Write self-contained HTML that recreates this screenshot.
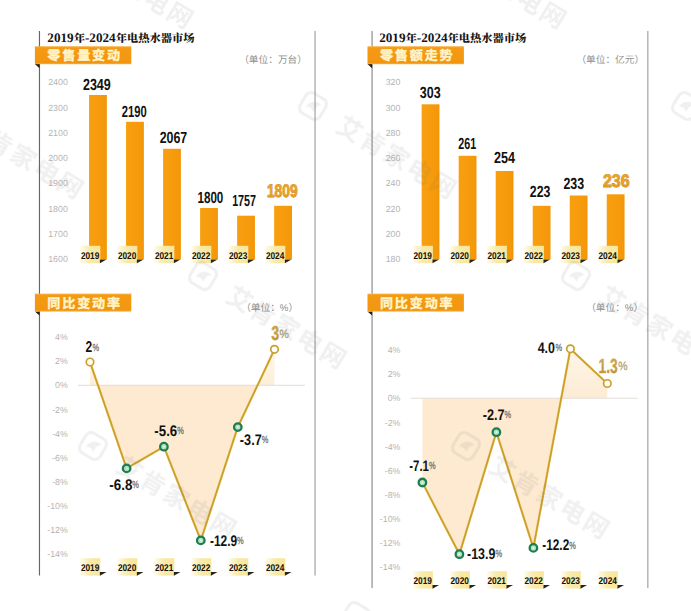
<!DOCTYPE html>
<html lang="zh-CN"><head><meta charset="utf-8"><title>2019年-2024年电热水器市场</title>
<style>html,body{margin:0;padding:0;background:#fff}svg{display:block}text{font-family:"Liberation Sans", "Noto Sans CJK SC", sans-serif;text-rendering:geometricPrecision}text.serif{font-family:"Liberation Serif", "Noto Serif CJK SC", serif}</style></head><body>
<svg width="691" height="611" viewBox="0 0 691 611">
<defs><linearGradient id="bar" x1="0" x2="1" y1="0" y2="0"><stop offset="0" stop-color="#f89f10"/><stop offset="0.85" stop-color="#f5990b"/><stop offset="1" stop-color="#f19509"/></linearGradient><linearGradient id="ban" x1="0" x2="0" y1="0" y2="1"><stop offset="0" stop-color="#f8b850"/><stop offset="0.09" stop-color="#f59a14"/><stop offset="0.91" stop-color="#f3960f"/><stop offset="1" stop-color="#f6b045"/></linearGradient><linearGradient id="tab" x1="0" x2="1" y1="0" y2="0"><stop offset="0" stop-color="#fdf3cd" stop-opacity="0.25"/><stop offset="0.28" stop-color="#fbf1c4"/><stop offset="0.5" stop-color="#f9eaa8"/><stop offset="1" stop-color="#f8e69c"/></linearGradient><linearGradient id="gold" x1="0" x2="0" y1="0" y2="1"><stop offset="0" stop-color="#efa628"/><stop offset="1" stop-color="#e2981d"/></linearGradient><linearGradient id="gold2" x1="0" x2="0" y1="0" y2="1"><stop offset="0" stop-color="#cfae52"/><stop offset="1" stop-color="#b58f34"/></linearGradient><linearGradient id="pos" gradientUnits="userSpaceOnUse" x1="0" x2="0" y1="345" y2="400"><stop offset="0" stop-color="#fef6ea"/><stop offset="1" stop-color="#fdebd3"/></linearGradient></defs>
<rect width="691" height="611" fill="#ffffff"/>
<rect x="38.9" y="31" width="1.15" height="544.5" fill="#666666"/>
<rect x="314.5" y="31" width="1.1" height="544.5" fill="#9a9a9a"/>
<text x="47.3" y="41.8" class="serif" font-size="11.1" font-weight="900" fill="#161616" textLength="147.2" lengthAdjust="spacingAndGlyphs"><tspan font-size="13" font-weight="bold">2019</tspan>年<tspan font-size="13" font-weight="bold">-2024</tspan>年电热水器市场</text>
<path d="M34.9 64 L39.5 64 L39.5 68.2 Z" fill="#231a10"/>
<rect x="34.9" y="46.2" width="96.4" height="18" fill="url(#ban)"/>
<text x="47.3" y="60.4" font-size="13.1" font-weight="bold" fill="#fff5cc" stroke="#fff5cc" stroke-width="0.35" textLength="72.8" lengthAdjust="spacing">零售量变动</text>
<path d="M34.9 311.4 L39.5 311.4 L39.5 315.6 Z" fill="#231a10"/>
<rect x="34.9" y="293.6" width="96.4" height="18" fill="url(#ban)"/>
<text x="47.3" y="307.8" font-size="13.1" font-weight="bold" fill="#fff5cc" stroke="#fff5cc" stroke-width="0.35" textLength="72.8" lengthAdjust="spacing">同比变动率</text>
<text x="307" y="62.9" font-size="9.7" fill="#8f8f8f" text-anchor="end">（单位：万台）</text>
<text x="298.2" y="310.5" font-size="9.7" fill="#8f8f8f" text-anchor="end">（单位：%）</text>
<text x="67.8" y="85.2" font-size="8.8" fill="#b4b4b4" text-anchor="end">2400</text>
<text x="67.8" y="110.5" font-size="8.8" fill="#b4b4b4" text-anchor="end">2300</text>
<text x="67.8" y="135.8" font-size="8.8" fill="#b4b4b4" text-anchor="end">2100</text>
<text x="67.8" y="161.1" font-size="8.8" fill="#b4b4b4" text-anchor="end">2000</text>
<text x="67.8" y="186.4" font-size="8.8" fill="#b4b4b4" text-anchor="end">1900</text>
<text x="67.8" y="211.7" font-size="8.8" fill="#b4b4b4" text-anchor="end">1800</text>
<text x="67.8" y="237" font-size="8.8" fill="#b4b4b4" text-anchor="end">1700</text>
<text x="67.8" y="262.3" font-size="8.8" fill="#b4b4b4" text-anchor="end">1600</text>
<rect x="89.05" y="95" width="17.8" height="164.4" fill="url(#bar)"/>
<rect x="126.07" y="121.8" width="17.8" height="137.6" fill="url(#bar)"/>
<rect x="163.09" y="148.8" width="17.8" height="110.6" fill="url(#bar)"/>
<rect x="200.11" y="208" width="17.8" height="51.4" fill="url(#bar)"/>
<rect x="237.13" y="215.7" width="17.8" height="43.7" fill="url(#bar)"/>
<rect x="274.15" y="205.8" width="17.8" height="53.6" fill="url(#bar)"/>
<rect x="80" y="245.8" width="20.3" height="17.4" fill="url(#tab)"/>
<path d="M99.9 259.5 L106.5 259.5 L99.9 263.3 Z" fill="#2a2418"/>
<text x="80.88" y="258.8" font-size="9.8" font-weight="bold" fill="#111" textLength="18.43" lengthAdjust="spacingAndGlyphs" >2019</text>
<rect x="117" y="245.8" width="20.3" height="17.4" fill="url(#tab)"/>
<path d="M136.9 259.5 L143.5 259.5 L136.9 263.3 Z" fill="#2a2418"/>
<text x="117.88" y="258.8" font-size="9.8" font-weight="bold" fill="#111" textLength="18.43" lengthAdjust="spacingAndGlyphs" >2020</text>
<rect x="154" y="245.8" width="20.3" height="17.4" fill="url(#tab)"/>
<path d="M173.9 259.5 L180.5 259.5 L173.9 263.3 Z" fill="#2a2418"/>
<text x="154.88" y="258.8" font-size="9.8" font-weight="bold" fill="#111" textLength="18.43" lengthAdjust="spacingAndGlyphs" >2021</text>
<rect x="191" y="245.8" width="20.3" height="17.4" fill="url(#tab)"/>
<path d="M210.9 259.5 L217.5 259.5 L210.9 263.3 Z" fill="#2a2418"/>
<text x="191.88" y="258.8" font-size="9.8" font-weight="bold" fill="#111" textLength="18.43" lengthAdjust="spacingAndGlyphs" >2022</text>
<rect x="228" y="245.8" width="20.3" height="17.4" fill="url(#tab)"/>
<path d="M247.9 259.5 L254.5 259.5 L247.9 263.3 Z" fill="#2a2418"/>
<text x="228.88" y="258.8" font-size="9.8" font-weight="bold" fill="#111" textLength="18.43" lengthAdjust="spacingAndGlyphs" >2023</text>
<rect x="265" y="245.8" width="20.3" height="17.4" fill="url(#tab)"/>
<path d="M284.9 259.5 L291.5 259.5 L284.9 263.3 Z" fill="#2a2418"/>
<text x="265.88" y="258.8" font-size="9.8" font-weight="bold" fill="#111" textLength="18.43" lengthAdjust="spacingAndGlyphs" >2024</text>
<text x="82.95" y="89.5" font-size="16.1" font-weight="bold" fill="#111" textLength="27.81" lengthAdjust="spacingAndGlyphs" >2349</text>
<text x="121.75" y="116.6" font-size="16.1" font-weight="bold" fill="#111" textLength="24.91" lengthAdjust="spacingAndGlyphs" >2190</text>
<text x="159.65" y="142.9" font-size="16.1" font-weight="bold" fill="#111" textLength="27.61" lengthAdjust="spacingAndGlyphs" >2067</text>
<text x="197.45" y="202.6" font-size="16.1" font-weight="bold" fill="#111" textLength="25.91" lengthAdjust="spacingAndGlyphs" >1800</text>
<text x="232.15" y="206.3" font-size="16.1" font-weight="bold" fill="#111" textLength="23.91" lengthAdjust="spacingAndGlyphs" >1757</text>
<text x="266.9" y="197.3" font-size="18.2" font-weight="bold" fill="url(#gold)" textLength="30.8" lengthAdjust="spacingAndGlyphs" stroke="#c98a28" stroke-width="0.8" paint-order="stroke">1809</text>
<text x="67.8" y="340.2" font-size="8.8" fill="#b4b4b4" text-anchor="end">4%</text>
<text x="67.8" y="364.32" font-size="8.8" fill="#b4b4b4" text-anchor="end">2%</text>
<text x="67.8" y="388.44" font-size="8.8" fill="#b4b4b4" text-anchor="end">0%</text>
<text x="67.8" y="412.56" font-size="8.8" fill="#b4b4b4" text-anchor="end">-2%</text>
<text x="67.8" y="436.68" font-size="8.8" fill="#b4b4b4" text-anchor="end">-4%</text>
<text x="67.8" y="460.8" font-size="8.8" fill="#b4b4b4" text-anchor="end">-6%</text>
<text x="67.8" y="484.92" font-size="8.8" fill="#b4b4b4" text-anchor="end">-8%</text>
<text x="67.8" y="509.04" font-size="8.8" fill="#b4b4b4" text-anchor="end">-10%</text>
<text x="67.8" y="533.16" font-size="8.8" fill="#b4b4b4" text-anchor="end">-12%</text>
<text x="67.8" y="557.28" font-size="8.8" fill="#b4b4b4" text-anchor="end">-14%</text>
<clipPath id="c0n"><rect x="0" y="385.3" width="691" height="300"/></clipPath><clipPath id="c0p"><rect x="0" y="0" width="691" height="385.3"/></clipPath>
<path d="M90 385.3 L90 362 L126.6 468.4 L163.9 446.7 L200.8 540.4 L237.8 427.1 L274.5 349.3 L274.5 385.3 Z" fill="#fdead1" clip-path="url(#c0n)"/>
<path d="M90 385.3 L90 362 L126.6 468.4 L163.9 446.7 L200.8 540.4 L237.8 427.1 L274.5 349.3 L274.5 385.3 Z" fill="url(#pos)" clip-path="url(#c0p)"/>
<rect x="78" y="384.8" width="227" height="1" fill="#e3ddd6"/>
<path d="M90 362 L126.6 468.4 L163.9 446.7 L200.8 540.4 L237.8 427.1 L274.5 349.3" fill="none" stroke="#eaae3c" stroke-width="2.4" stroke-linejoin="round" opacity="0.6"/>
<path d="M90 362 L126.6 468.4 L163.9 446.7 L200.8 540.4 L237.8 427.1 L274.5 349.3" fill="none" stroke="#c9a024" stroke-width="1.6" stroke-linejoin="round"/>
<circle cx="90" cy="362" r="3.75" fill="#fffdf7" stroke="#c9a030" stroke-width="1.7"/>
<circle cx="126.6" cy="468.4" r="3.75" fill="#b5e3c3" stroke="#1d7d50" stroke-width="2.3"/>
<circle cx="126.6" cy="468.4" r="0.9" fill="#e9f7ed"/>
<circle cx="163.9" cy="446.7" r="3.75" fill="#b5e3c3" stroke="#1d7d50" stroke-width="2.3"/>
<circle cx="163.9" cy="446.7" r="0.9" fill="#e9f7ed"/>
<circle cx="200.8" cy="540.4" r="3.75" fill="#b5e3c3" stroke="#1d7d50" stroke-width="2.3"/>
<circle cx="200.8" cy="540.4" r="0.9" fill="#e9f7ed"/>
<circle cx="237.8" cy="427.1" r="3.75" fill="#b5e3c3" stroke="#1d7d50" stroke-width="2.3"/>
<circle cx="237.8" cy="427.1" r="0.9" fill="#e9f7ed"/>
<circle cx="274.5" cy="349.3" r="3.75" fill="#fffdf7" stroke="#c9a030" stroke-width="1.7"/>
<text x="85.46" y="352.4" font-size="15.6" font-weight="bold" fill="#111" textLength="6.69" lengthAdjust="spacingAndGlyphs" >2</text>
<text x="92.59" y="350.7" font-size="10.4" fill="#6b6b6b" stroke="#6b6b6b" stroke-width="0.25" textLength="6.62" lengthAdjust="spacingAndGlyphs">%</text>
<text x="109.26" y="489.9" font-size="15.4" font-weight="bold" fill="#111" textLength="23.08" lengthAdjust="spacingAndGlyphs" >-6.8</text>
<text x="132.29" y="488.2" font-size="10.4" fill="#6b6b6b" stroke="#6b6b6b" stroke-width="0.25" textLength="6.62" lengthAdjust="spacingAndGlyphs">%</text>
<text x="154.36" y="436" font-size="15.4" font-weight="bold" fill="#111" textLength="22.88" lengthAdjust="spacingAndGlyphs" >-5.6</text>
<text x="177.19" y="434.3" font-size="10.4" fill="#6b6b6b" stroke="#6b6b6b" stroke-width="0.25" textLength="6.62" lengthAdjust="spacingAndGlyphs">%</text>
<text x="209.96" y="545.5" font-size="15.4" font-weight="bold" fill="#111" textLength="27.18" lengthAdjust="spacingAndGlyphs" >-12.9</text>
<text x="237.09" y="543.8" font-size="10.4" fill="#6b6b6b" stroke="#6b6b6b" stroke-width="0.25" textLength="6.62" lengthAdjust="spacingAndGlyphs">%</text>
<text x="239.86" y="444.7" font-size="15.4" font-weight="bold" fill="#111" textLength="21.88" lengthAdjust="spacingAndGlyphs" >-3.7</text>
<text x="261.69" y="443" font-size="10.4" fill="#6b6b6b" stroke="#6b6b6b" stroke-width="0.25" textLength="6.62" lengthAdjust="spacingAndGlyphs">%</text>
<text x="271.16" y="340.2" font-size="20" font-weight="bold" fill="url(#gold2)" textLength="7.88" lengthAdjust="spacingAndGlyphs" stroke="#d3a548" stroke-width="0.35">3</text>
<text x="279.53" y="337.5" font-size="12.2" fill="#a9a272" stroke="#a9a272" stroke-width="0.25" textLength="9.33" lengthAdjust="spacingAndGlyphs">%</text>
<rect x="80" y="558.2" width="20.3" height="17.4" fill="url(#tab)"/>
<path d="M99.9 571.9 L106.5 571.9 L99.9 575.7 Z" fill="#2a2418"/>
<text x="80.88" y="571.2" font-size="9.8" font-weight="bold" fill="#111" textLength="18.43" lengthAdjust="spacingAndGlyphs" >2019</text>
<rect x="117" y="558.2" width="20.3" height="17.4" fill="url(#tab)"/>
<path d="M136.9 571.9 L143.5 571.9 L136.9 575.7 Z" fill="#2a2418"/>
<text x="117.88" y="571.2" font-size="9.8" font-weight="bold" fill="#111" textLength="18.43" lengthAdjust="spacingAndGlyphs" >2020</text>
<rect x="154" y="558.2" width="20.3" height="17.4" fill="url(#tab)"/>
<path d="M173.9 571.9 L180.5 571.9 L173.9 575.7 Z" fill="#2a2418"/>
<text x="154.88" y="571.2" font-size="9.8" font-weight="bold" fill="#111" textLength="18.43" lengthAdjust="spacingAndGlyphs" >2021</text>
<rect x="191" y="558.2" width="20.3" height="17.4" fill="url(#tab)"/>
<path d="M210.9 571.9 L217.5 571.9 L210.9 575.7 Z" fill="#2a2418"/>
<text x="191.88" y="571.2" font-size="9.8" font-weight="bold" fill="#111" textLength="18.43" lengthAdjust="spacingAndGlyphs" >2022</text>
<rect x="228" y="558.2" width="20.3" height="17.4" fill="url(#tab)"/>
<path d="M247.9 571.9 L254.5 571.9 L247.9 575.7 Z" fill="#2a2418"/>
<text x="228.88" y="571.2" font-size="9.8" font-weight="bold" fill="#111" textLength="18.43" lengthAdjust="spacingAndGlyphs" >2023</text>
<rect x="265" y="558.2" width="20.3" height="17.4" fill="url(#tab)"/>
<path d="M284.9 571.9 L291.5 571.9 L284.9 575.7 Z" fill="#2a2418"/>
<text x="265.88" y="571.2" font-size="9.8" font-weight="bold" fill="#111" textLength="18.43" lengthAdjust="spacingAndGlyphs" >2024</text>
<rect x="371.5" y="31" width="1.15" height="557" fill="#8a8a8a"/>
<rect x="647.3" y="31" width="1.1" height="557" fill="#9a9a9a"/>
<text x="379.2" y="41.6" class="serif" font-size="11.1" font-weight="900" fill="#161616" textLength="147.2" lengthAdjust="spacingAndGlyphs"><tspan font-size="13" font-weight="bold">2019</tspan>年<tspan font-size="13" font-weight="bold">-2024</tspan>年电热水器市场</text>
<path d="M367.5 64 L372.1 64 L372.1 68.2 Z" fill="#231a10"/>
<rect x="367.5" y="46.2" width="96.4" height="18" fill="url(#ban)"/>
<text x="379.9" y="60.4" font-size="13.1" font-weight="bold" fill="#fff5cc" stroke="#fff5cc" stroke-width="0.35" textLength="72.8" lengthAdjust="spacing">零售额走势</text>
<path d="M367.5 311.4 L372.1 311.4 L372.1 315.6 Z" fill="#231a10"/>
<rect x="367.5" y="293.6" width="96.4" height="18" fill="url(#ban)"/>
<text x="379.9" y="307.8" font-size="13.1" font-weight="bold" fill="#fff5cc" stroke="#fff5cc" stroke-width="0.35" textLength="72.8" lengthAdjust="spacing">同比变动率</text>
<text x="644.2" y="62.9" font-size="9.7" fill="#8f8f8f" text-anchor="end">（单位：亿元）</text>
<text x="643.2" y="311.4" font-size="9.7" fill="#8f8f8f" text-anchor="end">（单位：%）</text>
<text x="400.4" y="85.2" font-size="8.8" fill="#b4b4b4" text-anchor="end">320</text>
<text x="400.4" y="110.5" font-size="8.8" fill="#b4b4b4" text-anchor="end">300</text>
<text x="400.4" y="135.8" font-size="8.8" fill="#b4b4b4" text-anchor="end">280</text>
<text x="400.4" y="161.1" font-size="8.8" fill="#b4b4b4" text-anchor="end">260</text>
<text x="400.4" y="186.4" font-size="8.8" fill="#b4b4b4" text-anchor="end">240</text>
<text x="400.4" y="211.7" font-size="8.8" fill="#b4b4b4" text-anchor="end">220</text>
<text x="400.4" y="237" font-size="8.8" fill="#b4b4b4" text-anchor="end">200</text>
<text x="400.4" y="262.3" font-size="8.8" fill="#b4b4b4" text-anchor="end">180</text>
<rect x="421.65" y="104.3" width="17.8" height="155.1" fill="url(#bar)"/>
<rect x="458.67" y="155.8" width="17.8" height="103.6" fill="url(#bar)"/>
<rect x="495.69" y="171" width="17.8" height="88.4" fill="url(#bar)"/>
<rect x="532.71" y="205.8" width="17.8" height="53.6" fill="url(#bar)"/>
<rect x="569.73" y="195.5" width="17.8" height="63.9" fill="url(#bar)"/>
<rect x="606.75" y="194.3" width="17.8" height="65.1" fill="url(#bar)"/>
<rect x="412.6" y="245.8" width="20.3" height="17.4" fill="url(#tab)"/>
<path d="M432.5 259.5 L439.1 259.5 L432.5 263.3 Z" fill="#2a2418"/>
<text x="413.48" y="258.8" font-size="9.8" font-weight="bold" fill="#111" textLength="18.43" lengthAdjust="spacingAndGlyphs" >2019</text>
<rect x="449.6" y="245.8" width="20.3" height="17.4" fill="url(#tab)"/>
<path d="M469.5 259.5 L476.1 259.5 L469.5 263.3 Z" fill="#2a2418"/>
<text x="450.48" y="258.8" font-size="9.8" font-weight="bold" fill="#111" textLength="18.43" lengthAdjust="spacingAndGlyphs" >2020</text>
<rect x="486.6" y="245.8" width="20.3" height="17.4" fill="url(#tab)"/>
<path d="M506.5 259.5 L513.1 259.5 L506.5 263.3 Z" fill="#2a2418"/>
<text x="487.48" y="258.8" font-size="9.8" font-weight="bold" fill="#111" textLength="18.43" lengthAdjust="spacingAndGlyphs" >2021</text>
<rect x="523.6" y="245.8" width="20.3" height="17.4" fill="url(#tab)"/>
<path d="M543.5 259.5 L550.1 259.5 L543.5 263.3 Z" fill="#2a2418"/>
<text x="524.48" y="258.8" font-size="9.8" font-weight="bold" fill="#111" textLength="18.43" lengthAdjust="spacingAndGlyphs" >2022</text>
<rect x="560.6" y="245.8" width="20.3" height="17.4" fill="url(#tab)"/>
<path d="M580.5 259.5 L587.1 259.5 L580.5 263.3 Z" fill="#2a2418"/>
<text x="561.48" y="258.8" font-size="9.8" font-weight="bold" fill="#111" textLength="18.43" lengthAdjust="spacingAndGlyphs" >2023</text>
<rect x="597.6" y="245.8" width="20.3" height="17.4" fill="url(#tab)"/>
<path d="M617.5 259.5 L624.1 259.5 L617.5 263.3 Z" fill="#2a2418"/>
<text x="598.48" y="258.8" font-size="9.8" font-weight="bold" fill="#111" textLength="18.43" lengthAdjust="spacingAndGlyphs" >2024</text>
<text x="419.85" y="97.5" font-size="16.1" font-weight="bold" fill="#111" textLength="20.81" lengthAdjust="spacingAndGlyphs" >303</text>
<text x="458.35" y="148.7" font-size="16.1" font-weight="bold" fill="#111" textLength="17.91" lengthAdjust="spacingAndGlyphs" >261</text>
<text x="493.95" y="163" font-size="16.1" font-weight="bold" fill="#111" textLength="21.01" lengthAdjust="spacingAndGlyphs" >254</text>
<text x="529.85" y="197.4" font-size="16.1" font-weight="bold" fill="#111" textLength="20.51" lengthAdjust="spacingAndGlyphs" >223</text>
<text x="563.45" y="188.6" font-size="16.1" font-weight="bold" fill="#111" textLength="20.71" lengthAdjust="spacingAndGlyphs" >233</text>
<text x="602.9" y="186.7" font-size="18.2" font-weight="bold" fill="url(#gold)" textLength="26.8" lengthAdjust="spacingAndGlyphs" stroke="#c98a28" stroke-width="0.8" paint-order="stroke">236</text>
<text x="400.4" y="353.2" font-size="8.8" fill="#b4b4b4" text-anchor="end">4%</text>
<text x="400.4" y="377.32" font-size="8.8" fill="#b4b4b4" text-anchor="end">2%</text>
<text x="400.4" y="401.44" font-size="8.8" fill="#b4b4b4" text-anchor="end">0%</text>
<text x="400.4" y="425.56" font-size="8.8" fill="#b4b4b4" text-anchor="end">-2%</text>
<text x="400.4" y="449.68" font-size="8.8" fill="#b4b4b4" text-anchor="end">-4%</text>
<text x="400.4" y="473.8" font-size="8.8" fill="#b4b4b4" text-anchor="end">-6%</text>
<text x="400.4" y="497.92" font-size="8.8" fill="#b4b4b4" text-anchor="end">-8%</text>
<text x="400.4" y="522.04" font-size="8.8" fill="#b4b4b4" text-anchor="end">-10%</text>
<text x="400.4" y="546.16" font-size="8.8" fill="#b4b4b4" text-anchor="end">-12%</text>
<text x="400.4" y="570.28" font-size="8.8" fill="#b4b4b4" text-anchor="end">-14%</text>
<clipPath id="c332n"><rect x="0" y="398.2" width="691" height="300"/></clipPath><clipPath id="c332p"><rect x="0" y="0" width="691" height="398.2"/></clipPath>
<path d="M422.4 398.2 L422.4 482.5 L459.4 554.2 L496.4 432.2 L533.4 547.9 L570.4 348.8 L607.3 383.5 L607.3 398.2 Z" fill="#fdead1" clip-path="url(#c332n)"/>
<path d="M422.4 398.2 L422.4 482.5 L459.4 554.2 L496.4 432.2 L533.4 547.9 L570.4 348.8 L607.3 383.5 L607.3 398.2 Z" fill="url(#pos)" clip-path="url(#c332p)"/>
<rect x="410.6" y="397.7" width="227.2" height="1" fill="#e3ddd6"/>
<path d="M422.4 482.5 L459.4 554.2 L496.4 432.2 L533.4 547.9 L570.4 348.8 L607.3 383.5" fill="none" stroke="#eaae3c" stroke-width="2.4" stroke-linejoin="round" opacity="0.6"/>
<path d="M422.4 482.5 L459.4 554.2 L496.4 432.2 L533.4 547.9 L570.4 348.8 L607.3 383.5" fill="none" stroke="#c9a024" stroke-width="1.6" stroke-linejoin="round"/>
<circle cx="422.4" cy="482.5" r="3.75" fill="#b5e3c3" stroke="#1d7d50" stroke-width="2.3"/>
<circle cx="422.4" cy="482.5" r="0.9" fill="#e9f7ed"/>
<circle cx="459.4" cy="554.2" r="3.75" fill="#b5e3c3" stroke="#1d7d50" stroke-width="2.3"/>
<circle cx="459.4" cy="554.2" r="0.9" fill="#e9f7ed"/>
<circle cx="496.4" cy="432.2" r="3.75" fill="#b5e3c3" stroke="#1d7d50" stroke-width="2.3"/>
<circle cx="496.4" cy="432.2" r="0.9" fill="#e9f7ed"/>
<circle cx="533.4" cy="547.9" r="3.75" fill="#b5e3c3" stroke="#1d7d50" stroke-width="2.3"/>
<circle cx="533.4" cy="547.9" r="0.9" fill="#e9f7ed"/>
<circle cx="570.4" cy="348.8" r="3.75" fill="#fffdf7" stroke="#c9a030" stroke-width="1.7"/>
<circle cx="607.3" cy="383.5" r="3.75" fill="#fffdf7" stroke="#c9a030" stroke-width="1.7"/>
<text x="409.26" y="470.5" font-size="15.4" font-weight="bold" fill="#111" textLength="19.68" lengthAdjust="spacingAndGlyphs" >-7.1</text>
<text x="428.89" y="468.8" font-size="10.4" fill="#6b6b6b" stroke="#6b6b6b" stroke-width="0.25" textLength="6.62" lengthAdjust="spacingAndGlyphs">%</text>
<text x="467.06" y="558.9" font-size="15.4" font-weight="bold" fill="#111" textLength="28.38" lengthAdjust="spacingAndGlyphs" >-13.9</text>
<text x="495.39" y="557.2" font-size="10.4" fill="#6b6b6b" stroke="#6b6b6b" stroke-width="0.25" textLength="6.62" lengthAdjust="spacingAndGlyphs">%</text>
<text x="482.66" y="420.1" font-size="15.4" font-weight="bold" fill="#111" textLength="21.88" lengthAdjust="spacingAndGlyphs" >-2.7</text>
<text x="504.49" y="418.4" font-size="10.4" fill="#6b6b6b" stroke="#6b6b6b" stroke-width="0.25" textLength="6.62" lengthAdjust="spacingAndGlyphs">%</text>
<text x="542.26" y="550.3" font-size="15.4" font-weight="bold" fill="#111" textLength="26.98" lengthAdjust="spacingAndGlyphs" >-12.2</text>
<text x="569.19" y="548.6" font-size="10.4" fill="#6b6b6b" stroke="#6b6b6b" stroke-width="0.25" textLength="6.62" lengthAdjust="spacingAndGlyphs">%</text>
<text x="537.66" y="353.1" font-size="15.4" font-weight="bold" fill="#111" textLength="17.28" lengthAdjust="spacingAndGlyphs" >4.0</text>
<text x="555.39" y="351.4" font-size="10.4" fill="#6b6b6b" stroke="#6b6b6b" stroke-width="0.25" textLength="6.62" lengthAdjust="spacingAndGlyphs">%</text>
<text x="598.55" y="373" font-size="20.4" font-weight="bold" fill="url(#gold2)" textLength="19.2" lengthAdjust="spacingAndGlyphs" stroke="#d3a548" stroke-width="0.35">1.3</text>
<text x="618.23" y="370.3" font-size="12.2" fill="#a9a272" stroke="#a9a272" stroke-width="0.25" textLength="9.33" lengthAdjust="spacingAndGlyphs">%</text>
<rect x="412.6" y="571.2" width="20.3" height="17.4" fill="url(#tab)"/>
<path d="M432.5 584.9 L439.1 584.9 L432.5 588.7 Z" fill="#2a2418"/>
<text x="413.48" y="584.2" font-size="9.8" font-weight="bold" fill="#111" textLength="18.43" lengthAdjust="spacingAndGlyphs" >2019</text>
<rect x="449.6" y="571.2" width="20.3" height="17.4" fill="url(#tab)"/>
<path d="M469.5 584.9 L476.1 584.9 L469.5 588.7 Z" fill="#2a2418"/>
<text x="450.48" y="584.2" font-size="9.8" font-weight="bold" fill="#111" textLength="18.43" lengthAdjust="spacingAndGlyphs" >2020</text>
<rect x="486.6" y="571.2" width="20.3" height="17.4" fill="url(#tab)"/>
<path d="M506.5 584.9 L513.1 584.9 L506.5 588.7 Z" fill="#2a2418"/>
<text x="487.48" y="584.2" font-size="9.8" font-weight="bold" fill="#111" textLength="18.43" lengthAdjust="spacingAndGlyphs" >2021</text>
<rect x="523.6" y="571.2" width="20.3" height="17.4" fill="url(#tab)"/>
<path d="M543.5 584.9 L550.1 584.9 L543.5 588.7 Z" fill="#2a2418"/>
<text x="524.48" y="584.2" font-size="9.8" font-weight="bold" fill="#111" textLength="18.43" lengthAdjust="spacingAndGlyphs" >2022</text>
<rect x="560.6" y="571.2" width="20.3" height="17.4" fill="url(#tab)"/>
<path d="M580.5 584.9 L587.1 584.9 L580.5 588.7 Z" fill="#2a2418"/>
<text x="561.48" y="584.2" font-size="9.8" font-weight="bold" fill="#111" textLength="18.43" lengthAdjust="spacingAndGlyphs" >2023</text>
<rect x="597.6" y="571.2" width="20.3" height="17.4" fill="url(#tab)"/>
<path d="M617.5 584.9 L624.1 584.9 L617.5 588.7 Z" fill="#2a2418"/>
<text x="598.48" y="584.2" font-size="9.8" font-weight="bold" fill="#111" textLength="18.43" lengthAdjust="spacingAndGlyphs" >2024</text>
<g opacity="0.105" fill="#6e6e6e" font-weight="bold" font-size="25">
<g transform="translate(50 -64) rotate(31)"><rect x="-11.5" y="-11.5" width="23" height="23" rx="6" fill="none" stroke="#6e6e6e" stroke-width="3"/><path d="M-6 4 C-4 -5 2.5 -7 7 -5 C3.5 -3.5 2.5 0 3.5 5 C0 2.5 -2.5 2.5 -6 4 Z"/><text x="31" y="10" textLength="134" lengthAdjust="spacing">艾肯家电网</text></g>
<g transform="translate(423 -64) rotate(31)"><rect x="-11.5" y="-11.5" width="23" height="23" rx="6" fill="none" stroke="#6e6e6e" stroke-width="3"/><path d="M-6 4 C-4 -5 2.5 -7 7 -5 C3.5 -3.5 2.5 0 3.5 5 C0 2.5 -2.5 2.5 -6 4 Z"/><text x="31" y="10" textLength="134" lengthAdjust="spacing">艾肯家电网</text></g>
<g transform="translate(-60 106) rotate(31)"><rect x="-11.5" y="-11.5" width="23" height="23" rx="6" fill="none" stroke="#6e6e6e" stroke-width="3"/><path d="M-6 4 C-4 -5 2.5 -7 7 -5 C3.5 -3.5 2.5 0 3.5 5 C0 2.5 -2.5 2.5 -6 4 Z"/><text x="31" y="10" textLength="134" lengthAdjust="spacing">艾肯家电网</text></g>
<g transform="translate(313 106) rotate(31)"><rect x="-11.5" y="-11.5" width="23" height="23" rx="6" fill="none" stroke="#6e6e6e" stroke-width="3"/><path d="M-6 4 C-4 -5 2.5 -7 7 -5 C3.5 -3.5 2.5 0 3.5 5 C0 2.5 -2.5 2.5 -6 4 Z"/><text x="31" y="10" textLength="134" lengthAdjust="spacing">艾肯家电网</text></g>
<g transform="translate(686 106) rotate(31)"><rect x="-11.5" y="-11.5" width="23" height="23" rx="6" fill="none" stroke="#6e6e6e" stroke-width="3"/><path d="M-6 4 C-4 -5 2.5 -7 7 -5 C3.5 -3.5 2.5 0 3.5 5 C0 2.5 -2.5 2.5 -6 4 Z"/><text x="31" y="10" textLength="134" lengthAdjust="spacing">艾肯家电网</text></g>
<g transform="translate(-170 276) rotate(31)"><rect x="-11.5" y="-11.5" width="23" height="23" rx="6" fill="none" stroke="#6e6e6e" stroke-width="3"/><path d="M-6 4 C-4 -5 2.5 -7 7 -5 C3.5 -3.5 2.5 0 3.5 5 C0 2.5 -2.5 2.5 -6 4 Z"/><text x="31" y="10" textLength="134" lengthAdjust="spacing">艾肯家电网</text></g>
<g transform="translate(203 276) rotate(31)"><rect x="-11.5" y="-11.5" width="23" height="23" rx="6" fill="none" stroke="#6e6e6e" stroke-width="3"/><path d="M-6 4 C-4 -5 2.5 -7 7 -5 C3.5 -3.5 2.5 0 3.5 5 C0 2.5 -2.5 2.5 -6 4 Z"/><text x="31" y="10" textLength="134" lengthAdjust="spacing">艾肯家电网</text></g>
<g transform="translate(576 276) rotate(31)"><rect x="-11.5" y="-11.5" width="23" height="23" rx="6" fill="none" stroke="#6e6e6e" stroke-width="3"/><path d="M-6 4 C-4 -5 2.5 -7 7 -5 C3.5 -3.5 2.5 0 3.5 5 C0 2.5 -2.5 2.5 -6 4 Z"/><text x="31" y="10" textLength="134" lengthAdjust="spacing">艾肯家电网</text></g>
<g transform="translate(93 446) rotate(31)"><rect x="-11.5" y="-11.5" width="23" height="23" rx="6" fill="none" stroke="#6e6e6e" stroke-width="3"/><path d="M-6 4 C-4 -5 2.5 -7 7 -5 C3.5 -3.5 2.5 0 3.5 5 C0 2.5 -2.5 2.5 -6 4 Z"/><text x="31" y="10" textLength="134" lengthAdjust="spacing">艾肯家电网</text></g>
<g transform="translate(466 446) rotate(31)"><rect x="-11.5" y="-11.5" width="23" height="23" rx="6" fill="none" stroke="#6e6e6e" stroke-width="3"/><path d="M-6 4 C-4 -5 2.5 -7 7 -5 C3.5 -3.5 2.5 0 3.5 5 C0 2.5 -2.5 2.5 -6 4 Z"/><text x="31" y="10" textLength="134" lengthAdjust="spacing">艾肯家电网</text></g>
<g transform="translate(-17 616) rotate(31)"><rect x="-11.5" y="-11.5" width="23" height="23" rx="6" fill="none" stroke="#6e6e6e" stroke-width="3"/><path d="M-6 4 C-4 -5 2.5 -7 7 -5 C3.5 -3.5 2.5 0 3.5 5 C0 2.5 -2.5 2.5 -6 4 Z"/><text x="31" y="10" textLength="134" lengthAdjust="spacing">艾肯家电网</text></g>
<g transform="translate(356 616) rotate(31)"><rect x="-11.5" y="-11.5" width="23" height="23" rx="6" fill="none" stroke="#6e6e6e" stroke-width="3"/><path d="M-6 4 C-4 -5 2.5 -7 7 -5 C3.5 -3.5 2.5 0 3.5 5 C0 2.5 -2.5 2.5 -6 4 Z"/><text x="31" y="10" textLength="134" lengthAdjust="spacing">艾肯家电网</text></g>
</g>
</svg></body></html>
